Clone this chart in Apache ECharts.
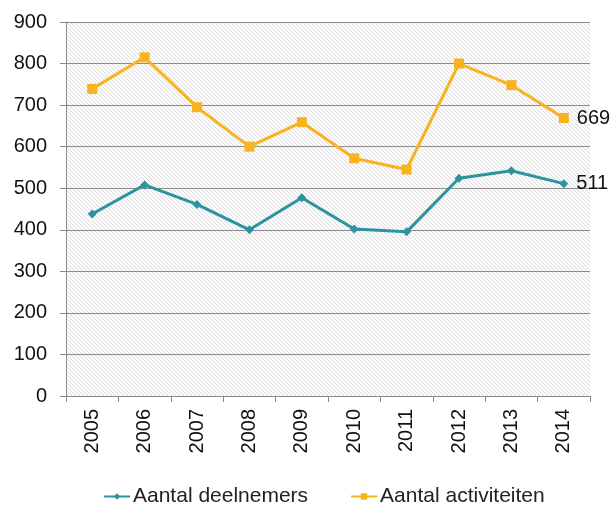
<!DOCTYPE html>
<html>
<head>
<meta charset="utf-8">
<script src="https://cdn.jsdelivr.net/npm/echarts@6/dist/echarts.min.js"></script>
<style>
  html, body { margin: 0; padding: 0; background: #fff; }
  #chart { width: 611px; height: 508px; }
</style>
</head>
<body>
<div id="chart"></div>
<script>
  var years = ['2005', '2006', '2007', '2008', '2009', '2010', '2011', '2012', '2013', '2014'];
  var deelnemers = [438, 508, 461, 400, 477, 402, 395, 524, 542, 511];
  var activiteiten = [739, 815, 695, 600, 659, 572, 545, 800, 748, 669];

  // light diagonal hatch for the plot background
  var hatch = document.createElement('canvas');
  hatch.width = 4;
  hatch.height = 4;
  var ctx = hatch.getContext('2d');
  ctx.fillStyle = '#fcfcfc';
  ctx.fillRect(0, 0, 4, 4);
  ctx.strokeStyle = '#dcdcdc';
  ctx.lineWidth = 1;
  ctx.beginPath();
  ctx.moveTo(0, 0); ctx.lineTo(4, 4);
  ctx.moveTo(-2, 2); ctx.lineTo(2, 6);
  ctx.moveTo(2, -2); ctx.lineTo(6, 2);
  ctx.stroke();

  var font = 'Liberation Sans, Arial, sans-serif';

  function lastLabel(data) {
    return data.map(function (v, i) {
      if (i === data.length - 1) {
        return { value: v, label: { show: true } };
      }
      return v;
    });
  }

  var myChart = echarts.init(document.getElementById('chart'));

  myChart.setOption({
    animation: false,
    textStyle: { fontFamily: font },
    grid: {
      left: 66,
      right: 21,
      top: 22,
      bottom: 112,
      show: true,
      borderWidth: 0,
      backgroundColor: { image: hatch, repeat: 'repeat' }
    },
    legend: {
      bottom: -4,
      left: 98,
      itemGap: 42,
      itemWidth: 26,
      itemHeight: 8,
      textStyle: { fontSize: 21, color: '#222', fontFamily: font, padding: [0, 0, 0, -2] },
      data: ['Aantal deelnemers', 'Aantal activiteiten']
    },
    xAxis: {
      type: 'category',
      data: years,
      boundaryGap: true,
      axisLine: { lineStyle: { color: '#8a8a8a' } },
      axisTick: { show: true, length: 6, lineStyle: { color: '#8a8a8a' } },
      axisLabel: { rotate: 90, fontSize: 20, color: '#111', margin: 13, fontFamily: font }
    },
    yAxis: {
      type: 'value',
      min: 0,
      max: 900,
      interval: 100,
      axisLine: { show: true, lineStyle: { color: '#8a8a8a' } },
      axisTick: { show: true, length: 6, lineStyle: { color: '#8a8a8a' } },
      axisLabel: { fontSize: 20, color: '#111', margin: 19, fontFamily: font },
      splitLine: { lineStyle: { color: '#8c8c8c', width: 1 } }
    },
    series: [{
      name: 'Aantal deelnemers',
      type: 'line',
      data: lastLabel(deelnemers),
      symbol: 'diamond',
      symbolSize: 9,
      color: '#2c93a0',
      lineStyle: { width: 3, color: '#2c93a0' },
      itemStyle: { color: '#2c93a0' },
      label: { show: false, position: 'right', distance: 8, fontSize: 20, color: '#111', fontFamily: font }
    }, {
      name: 'Aantal activiteiten',
      type: 'line',
      data: lastLabel(activiteiten),
      symbol: 'rect',
      symbolSize: 10,
      color: '#f8b31f',
      lineStyle: { width: 3, color: '#f8b31f' },
      itemStyle: { color: '#f8b31f' },
      label: { show: false, position: 'right', distance: 8, fontSize: 20, color: '#111', fontFamily: font }
    }]
  });
</script>
</body>
</html>
